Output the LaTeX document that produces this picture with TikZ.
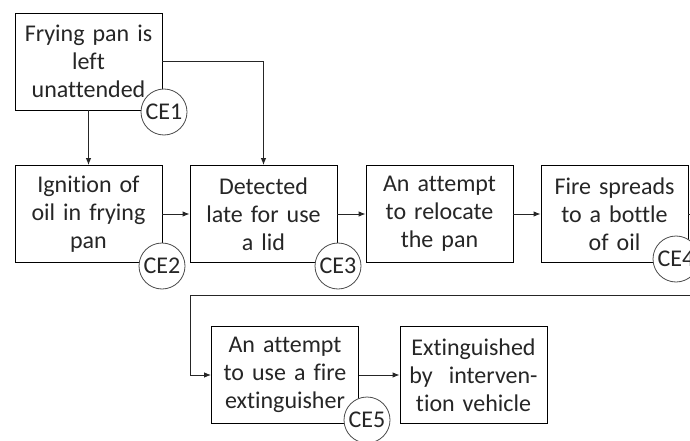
\documentclass[tikz,border=0pt]{standalone}
\usepackage{fontspec}
\setmainfont[RawFeature={-liga;-clig;-dlig;-calt}]{Carlito}
\usetikzlibrary{arrows.meta}
\begin{document}
\begin{tikzpicture}[x=1pt,y=-1pt,
  box/.style={draw=black,line width=0.9pt,fill=white,minimum width=147pt,minimum height=97pt,
    text width=140pt,align=center,font=\fontsize{24}{28}\selectfont,inner sep=0pt,text=black!85},
  ce/.style={draw=black!70,line width=0.8pt,fill=white,circle,minimum size=46pt,inner sep=0pt,
    font=\fontsize{24}{28}\selectfont,text=black!85},
  conn/.style={draw=black!85,line width=0.9pt},
  arr/.style={conn,-{Latex[length=7pt,width=5.5pt]}}]
\useasboundingbox (0,0) rectangle (690,441);
\fill[white] (0,0) rectangle (690,441);
\node[box] (b1) at (88.5,61.5) {Frying pan is\\left\\unattended};
\node[box] (b2) at (88.5,214) {Ignition of\\oil in frying\\pan};
\node[box] (b3) at (263.5,214) {Detected\\late for use\\a lid};
\node[box] (b4) at (439.5,214) {An attempt\\to relocate\\the pan};
\node[box] (b5) at (614.5,214) {Fire spreads\\to a bottle\\of oil};
\node[box] (b6) at (285,375) {An attempt\\to use a fire\\extinguisher};
\node[box] (b7) at (473.5,375) {Extinguished\\by~ interven-\\tion vehicle};
\coordinate (r) at (705,295);
\coordinate (l) at (190,295);
\draw[arr] (b1.south) -- (b2.north);
\draw[arr] (b1.east) -| (b3.north);
\draw[arr] (b2) -- (b3);
\draw[arr] (b3) -- (b4);
\draw[arr] (b4) -- (b5);
\draw[conn] (b5.east) -- (b5.east -| r) -- (r) -- (l);
\draw[arr] (l) |- (b6.west);
\draw[arr] (b6) -- (b7);
\node[ce] (c1) at (164,112) {CE1};
\node[ce] (c2) at (162,266) {CE2};
\node[ce] (c3) at (338,266) {CE3};
\node[ce] (c4) at (676,259) {CE4};
\node[ce] (c5) at (367,420) {CE5};
\end{tikzpicture}
\end{document}
